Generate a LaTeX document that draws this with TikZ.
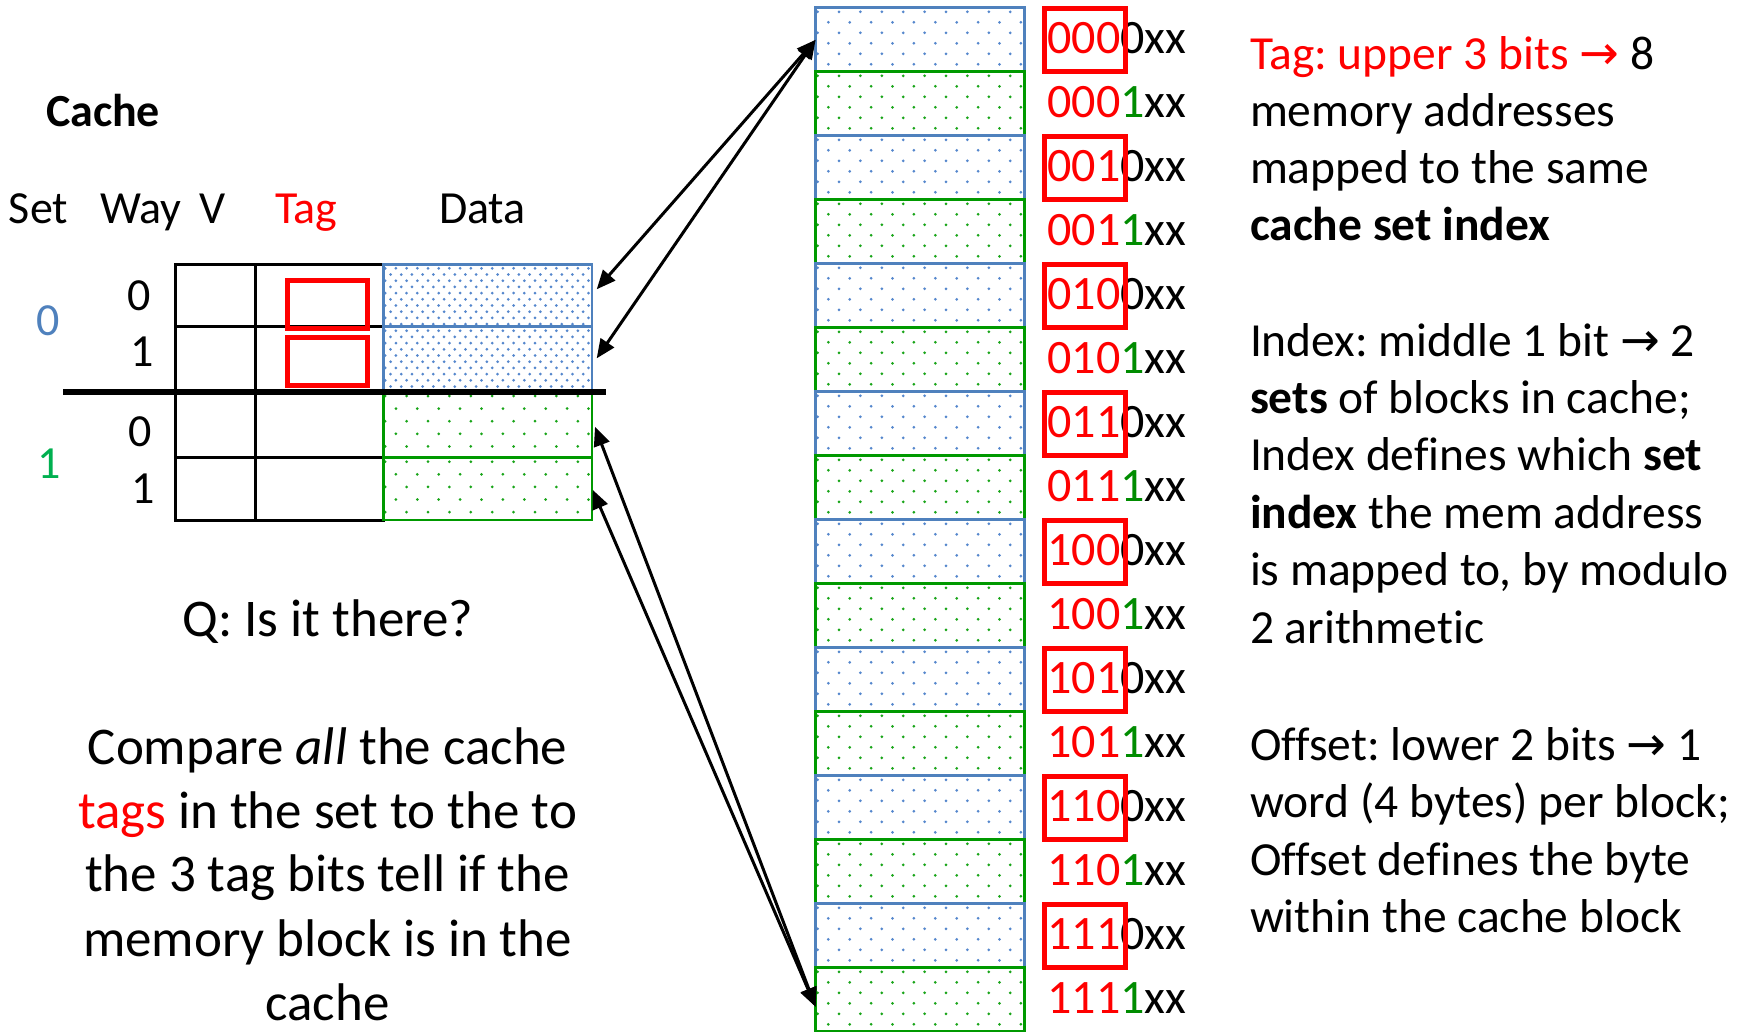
\documentclass[tikz,border=0pt]{standalone}
\usepackage{fontspec}
\setmainfont{Carlito}[Ligatures=NoCommon]
\newfontfamily\arrowfont{DejaVu Sans}
\usetikzlibrary{arrows.meta,calc}
\definecolor{cred}{RGB}{255,0,0}
\definecolor{cblue}{RGB}{79,129,189}
\definecolor{cgreen}{RGB}{0,153,0}
\definecolor{lgreen}{RGB}{0,176,80}
\definecolor{dgreen}{RGB}{0,140,0}
\definecolor{dotblue}{RGB}{85,135,205}
\definecolor{dotgreen}{RGB}{25,165,25}
% staggered dot field: x0 y0 x1 y1 colour dx dy
\newcommand{\dotfield}[7]{%
  \begin{scope}
    \clip (#1,#2) rectangle (#3,#4);
    \pgfmathtruncatemacro{\dfnr}{(#4-#2)/#7+1}%
    \pgfmathtruncatemacro{\dfnc}{(#3-#1)/#6+1}%
    \foreach \dfi in {0,...,\dfnr}{%
      \foreach \dfj in {0,...,\dfnc}{%
        \fill[#5] ({#1+2+\dfj*#6+mod(\dfi,2)*#6/2},{#2+4+\dfi*#7}) circle[radius=1.5pt];
      }%
    }%
  \end{scope}}
\begin{document}
\frenchspacing
\begin{tikzpicture}[x=1pt,y=-1pt,
  hdr/.style={font=\fontsize{46pt}{55pt}\selectfont, inner sep=0pt, outer sep=0pt, anchor=base west},
  num/.style={font=\fontsize{46pt}{55pt}\selectfont, inner sep=0pt, outer sep=0pt, anchor=base},
  body/.style={font=\fontsize{53pt}{64pt}\selectfont, inner sep=0pt, outer sep=0pt, anchor=base},
  side/.style={font=\fontsize{47.5pt}{57pt}\selectfont, inner sep=0pt, outer sep=0pt, anchor=base west},
  addr/.style={font=\fontsize{48pt}{58pt}\selectfont, inner sep=0pt, outer sep=0pt, anchor=base west},
  memrow/.style={rectangle, minimum width=209pt, minimum height=64pt, inner sep=0pt, outer sep=0pt, line width=2.8pt},
  cell/.style={rectangle, minimum width=208.8pt, inner sep=0pt, outer sep=0pt, line width=2.8pt},
  tablegrid/.style={line width=3pt, black},
  redbox/.style={draw=cred, line width=5pt},
  biarrow/.style={line width=3pt, arrows={Triangle[length=19pt,width=16pt]-Triangle[length=19pt,width=16pt]}}
]
\useasboundingbox (0,0) rectangle (1752,1031);
\begin{scope}
\clip (0,0) rectangle (1752,1031);
\fill[white] (0,0) rectangle (1752,1031);

% ---------- memory column ----------
\foreach \k in {0,...,15}{
  \pgfmathsetmacro{\ya}{7.8+64*\k}
  \pgfmathsetmacro{\yb}{71.8+64*\k}
  \ifodd\k\relax
    \dotfield{815.6}{\ya}{1024.6}{\yb}{dotgreen}{21.4}{10.5}
  \else
    \dotfield{815.6}{\ya}{1024.6}{\yb}{dotblue}{21.4}{10.5}
  \fi
}
\foreach \k in {0,...,15}{
  \ifodd\k\relax\def\rowcol{cgreen}\else\def\rowcol{cblue}\fi
  \node[memrow, draw=\rowcol] (m\k) at (920.1,{39.8+64*\k}) {};
}

% address labels
\foreach \t [count=\i from 0] in {000,001,010,011,100,101,110,111}{
  \node[addr] (ae\i) at (1047.5,{53.3+128*\i}) {\textcolor{cred}{\t}0xx};
  \node[addr] (ao\i) at (1047.5,{117.3+128*\i}) {\textcolor{cred}{\t}\textcolor{dgreen}{1}xx};
  \draw[redbox] (1044.5,{8.2+128*\i}) rectangle (1125.5,{71.4+128*\i});
}

% ---------- cache table ----------
\draw[tablegrid] (175.4,264.3) rectangle (383.2,520);
\draw[tablegrid] (255.9,264.3) -- (255.9,520);
\draw[tablegrid] (175.4,326.7) -- (383.2,326.7);
\draw[tablegrid] (175.4,457.7) -- (383.2,457.7);

\dotfield{383.2}{264.3}{592}{326.7}{dotblue}{10.7}{6.2}
\dotfield{383.2}{326.7}{592}{392}{dotblue}{10.7}{6.2}
\dotfield{383.2}{392}{592}{457.7}{dotgreen}{21.4}{12.6}
\dotfield{383.2}{457.7}{592}{520}{dotgreen}{21.4}{12.6}

\node[cell, draw=cblue, minimum height=62.4pt] (c0) at (487.6,295.5) {};
\node[cell, draw=cblue, minimum height=65.3pt] (c1) at (487.6,359.35) {};
\node[cell, draw=cgreen, minimum height=65.7pt] (c2) at (487.6,424.85) {};
\node[cell, draw=cgreen, minimum height=62.3pt] (c3) at (487.6,488.85) {};

\draw[line width=5.5pt] (63,392.2) -- (606,392.2);

\draw[redbox] (287,280.2) rectangle (367,328.2);
\draw[redbox] (287,337.8) rectangle (367,385.8);

% ---------- arrows ----------
\draw[biarrow] ($(c0.east)+(4.7,-6.2)$) -- (m0.west);
\draw[biarrow] ($(c1.east)+(4.7,-1)$) -- (m0.west);
\draw[biarrow] ($(c2.east)+(3,2)$) -- ($(m15.west)+(0,7)$);
\draw[biarrow] ($(c3.east)+(0.7,1)$) -- ($(m15.west)+(0,7)$);

% ---------- left texts ----------
\node[hdr, font=\fontsize{46pt}{55pt}\selectfont\bfseries] (cachetitle) at (46,126.7) {Cache};
\node[hdr] (hset) at (9,223.5) {Set};
\node[hdr] (hway) at (100,223.5) {Way};
\node[hdr] (hv) at (199,223.5) {V};
\node[hdr, text=cred] (htag) at (275,223.5) {Tag};
\node[hdr] (hdata) at (439,223.5) {Data};

\node[num, text=cblue] (set0) at (48,335) {0};
\node[num, text=lgreen] (set1) at (49,478) {1};
\node[num] (w00) at (139,310.7) {0};
\node[num] (w01) at (142,366.7) {1};
\node[num] (w10) at (140,446.7) {0};
\node[num] (w11) at (143.5,503) {1};

\node[body] (q) at (328,636.7) {Q: Is it there?};
\node[body] (b1) at (327.5,764.3) {Compare \textit{all} the cache};
\node[body] (b2) at (327.5,828.3) {\textcolor{cred}{tags} in the set to the to};
\node[body] (b3) at (327.5,891.7) {the 3 tag bits tell if the};
\node[body] (b4) at (327.5,956.7) {memory block is in the};
\node[body] (b5) at (327.5,1020) {cache};

% ---------- right texts ----------
\node[side] (t1) at (1250,69) {\textcolor{cred}{Tag: upper 3 bits {\arrowfont →}} 8};
\node[side] (t2) at (1250,126) {memory addresses};
\node[side] (t3) at (1250,183) {mapped to the same};
\node[side] (t4) at (1250,240) {\textbf{cache set index}};
\node[side] (i1) at (1250,356.7) {Index: middle 1 bit {\arrowfont →} 2};
\node[side] (i2) at (1250,413.3) {\textbf{sets} of blocks in cache;};
\node[side] (i3) at (1250,470.7) {Index defines which \textbf{set}};
\node[side] (i4) at (1250,528.3) {\textbf{index} the mem address};
\node[side] (i5) at (1250,585.7) {is mapped to, by modulo};
\node[side] (i6) at (1250,643.3) {2 arithmetic};
\node[side] (o1) at (1250,760) {Offset: lower 2 bits {\arrowfont →} 1};
\node[side] (o2) at (1250,817.3) {word (4 bytes) per block;};
\node[side] (o3) at (1250,875) {Offset defines the byte};
\node[side] (o4) at (1250,932.3) {within the cache block};
\end{scope}
\end{tikzpicture}
\end{document}
